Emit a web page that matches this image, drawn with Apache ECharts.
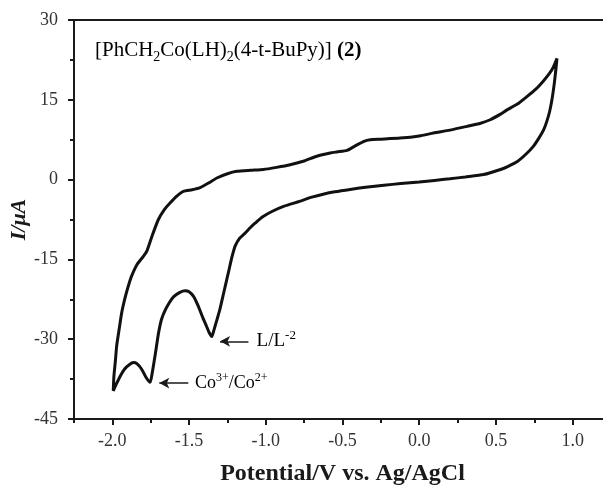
<!DOCTYPE html>
<html>
<head>
<meta charset="utf-8">
<script src="https://cdn.jsdelivr.net/npm/echarts@6.0.0/dist/echarts.min.js"></script>
<style>
  html, body { margin: 0; padding: 0; background: #fff; }
  #chart { width: 603px; height: 485px; }
</style>
</head>
<body>
<div id="chart"></div>
<script>
// cyclic voltammogram, one loop: 0.9 V -> -2.0 V (cathodic), then back to 0.9 V
const potential = [
  0.898, 0.89, 0.88, 0.865, 0.85, 0.83, 0.81, 0.78, 0.745, 0.70, 0.64, 0.58, 0.53, 0.42, 0.30,
  0.20, 0.10, 0.0, -0.12, -0.23, -0.35, -0.45, -0.55, -0.62, -0.70, -0.78, -0.88, -0.96, -1.02,
  -1.07, -1.10, -1.14, -1.17, -1.20, -1.22, -1.24, -1.26, -1.28, -1.30, -1.32, -1.34, -1.352,
  -1.37, -1.39, -1.41, -1.44, -1.47, -1.50, -1.526, -1.56, -1.60, -1.63, -1.66, -1.68, -1.70,
  -1.72, -1.74, -1.754, -1.78, -1.81, -1.84, -1.863, -1.89, -1.92, -1.95, -1.975, -1.994,
  -1.99, -1.98, -1.972, -1.955, -1.939, -1.917, -1.896, -1.874, -1.84, -1.80, -1.776, -1.74,
  -1.70, -1.66, -1.624, -1.58, -1.537, -1.48, -1.428, -1.37, -1.319, -1.25, -1.189, -1.10,
  -1.015, -0.93, -0.841, -0.75, -0.667, -0.58, -0.537, -0.47, -0.42, -0.36, -0.32, -0.25,
  -0.124, 0.0, 0.093, 0.2, 0.311, 0.40, 0.463, 0.53, 0.572, 0.64, 0.702, 0.76, 0.811, 0.85,
  0.875, 0.898
]
const current = [
  22.8, 20.5, 18, 15, 12.8, 10.8, 9.3, 7.8, 6.3, 4.9, 3.4, 2.5, 1.9, 0.95, 0.5,
  0.15, -0.15, -0.45, -0.75, -1.05, -1.45, -1.85, -2.3, -2.7, -3.3, -4.1, -5.0, -6.0, -7.0,
  -8.2, -9.0, -10.2, -11.0, -12.5, -14.5, -17.0, -19.5, -22.0, -24.5, -26.5, -28.5, -29.5,
  -28.7, -27.3, -26.0, -23.8, -22.0, -21.1, -20.9, -21.2, -22.0, -23.2, -24.8, -26.3, -29.0,
  -32.8, -36.3, -38.1, -37.2, -35.6, -34.6, -34.4, -34.8, -35.6, -37.0, -38.5, -39.7,
  -37, -34, -31.3, -28, -25, -22.2, -20, -18.1, -16, -14.5, -13.5, -10.5,
  -7.5, -5.6, -4.4, -3.1, -2.2, -1.9, -1.5, -0.6, 0.3, 1.1, 1.55, 1.75,
  1.9, 2.3, 2.8, 3.5, 4.4, 5.0, 5.2, 5.5, 6.3, 7.2, 7.5, 7.6,
  7.8, 8.2, 8.75, 9.3, 10.0, 10.6, 11.25, 12.3, 13.1, 14.2, 15.6, 17.0, 18.6, 20.0,
  21.2, 22.8
]

const xMajor = [-2.0, -1.5, -1.0, -0.5, 0.0, 0.5, 1.0]
const xMinor = [-2.25, -1.75, -1.25, -0.75, -0.25, 0.25, 0.75, 1.25]

// arrows: [tail, head] in data coords
const arrowL = [[-1.113, -30.4], [-1.298, -30.4]]
const arrowCo = [[-1.505, -38.25], [-1.694, -38.25]]

const serif = 'Liberation Serif'
const ink = '#1a1a1a'

let chart = echarts.init(document.getElementById('chart'))

let option = {
  animation: false,
  backgroundColor: '#fff',
  grid: { left: 74, top: 20, right: -8, bottom: 66, outerBoundsMode: 'none', containLabel: false },
  xAxis: [
    {
      type: 'value', min: -2.25, max: 1.25, position: 'bottom',
      name: 'Potential/V vs. Ag/AgCl', nameLocation: 'middle', nameGap: 43, nameMoveOverlap: false,
      nameTextStyle: { fontFamily: serif, fontSize: 24, fontWeight: 'bold', color: ink },
      splitLine: { show: false },
      axisLine: { show: true, onZero: false, lineStyle: { color: ink, width: 2 } },
      axisTick: { show: true, inside: false, length: 6, customValues: xMajor, lineStyle: { color: ink, width: 2 } },
      axisLabel: {
        customValues: xMajor, margin: 13, fontFamily: serif, fontSize: 18, color: '#333',
        formatter: v => v.toFixed(1)
      }
    },
    {
      type: 'value', min: -2.25, max: 1.25, position: 'bottom',
      splitLine: { show: false },
      axisLine: { show: false, onZero: false },
      axisTick: { show: true, length: 4, customValues: xMinor, lineStyle: { color: ink, width: 2 } },
      axisLabel: { show: false }
    },
    {
      type: 'value', min: -2.25, max: 1.25, position: 'top',
      splitLine: { show: false },
      axisLine: { show: true, onZero: false, lineStyle: { color: ink, width: 2 } },
      axisTick: { show: false },
      axisLabel: { show: false }
    }
  ],
  yAxis: {
    type: 'value', min: -45, max: 30, interval: 15, position: 'left',
    name: 'I/μA', nameLocation: 'middle', nameGap: 44, nameMoveOverlap: false,
    nameTextStyle: { fontFamily: serif, fontSize: 22, fontWeight: 'bold', fontStyle: 'italic', color: ink },
    splitLine: { show: false },
    axisLine: { show: true, onZero: false, lineStyle: { color: ink, width: 2 } },
    axisTick: { show: true, length: 6, lineStyle: { color: ink, width: 2 } },
    minorTick: { show: true, splitNumber: 2, length: 4, lineStyle: { color: ink, width: 2 } },
    axisLabel: { margin: 16, fontFamily: serif, fontSize: 18, color: '#333' }
  },
  series: [
    {
      type: 'line',
      xAxisIndex: 0,
      data: potential.map((v, i) => [v, current[i]]),
      showSymbol: false,
      smooth: 0.2,
      lineStyle: { color: '#111', width: 3 },
      markLine: {
        silent: true,
        symbol: ['none', 'arrow'],
        symbolSize: [8, 10],
        label: { show: false },
        lineStyle: { color: ink, width: 1.5, type: 'solid' },
        data: [
          [{ coord: arrowL[0] }, { coord: arrowL[1] }],
          [{ coord: arrowCo[0] }, { coord: arrowCo[1] }]
        ]
      }
    }
  ]
}
chart.setOption(option)

// text labels, placed from data coords
const px = c => chart.convertToPixel({ xAxisIndex: 0, yAxisIndex: 0 }, c)
const pL = px([-1.06, -30.4])
const pCo = px([-1.461, -38.25])

const rich = {
  n: { fontFamily: serif, fontSize: 19, color: '#222' },
  m: { fontFamily: serif, fontSize: 18, color: '#222' },
  t: { fontFamily: serif, fontSize: 21, color: '#222' },
  b: { fontFamily: serif, fontSize: 21, color: '#222', fontWeight: 'bold' },
  sub: { fontFamily: serif, fontSize: 14, color: '#222', padding: [13, 0, 0, 0] },
  sup: { fontFamily: serif, fontSize: 13, color: '#222', padding: [0, 0, 12, 0] },
  sup2: { fontFamily: serif, fontSize: 12, color: '#222', padding: [0, 0, 11, 0] }
}

chart.setOption({
  graphic: [
    {
      type: 'text', left: 95, top: 40,
      style: {
        text: '{t|[PhCH}{sub|2}{t|Co(LH)}{sub|2}{t|(4-t-BuPy)] }{b|(2)}',
        rich: rich
      }
    },
    {
      type: 'text', x: pL[0], y: pL[1],
      style: { text: '{n|L/L}{sup|-2}', rich: rich, verticalAlign: 'middle' }
    },
    {
      type: 'text', x: pCo[0], y: pCo[1],
      style: { text: '{m|Co}{sup2|3+}{m|/Co}{sup2|2+}', rich: rich, verticalAlign: 'middle' }
    }
  ]
})
</script>
</body>
</html>
